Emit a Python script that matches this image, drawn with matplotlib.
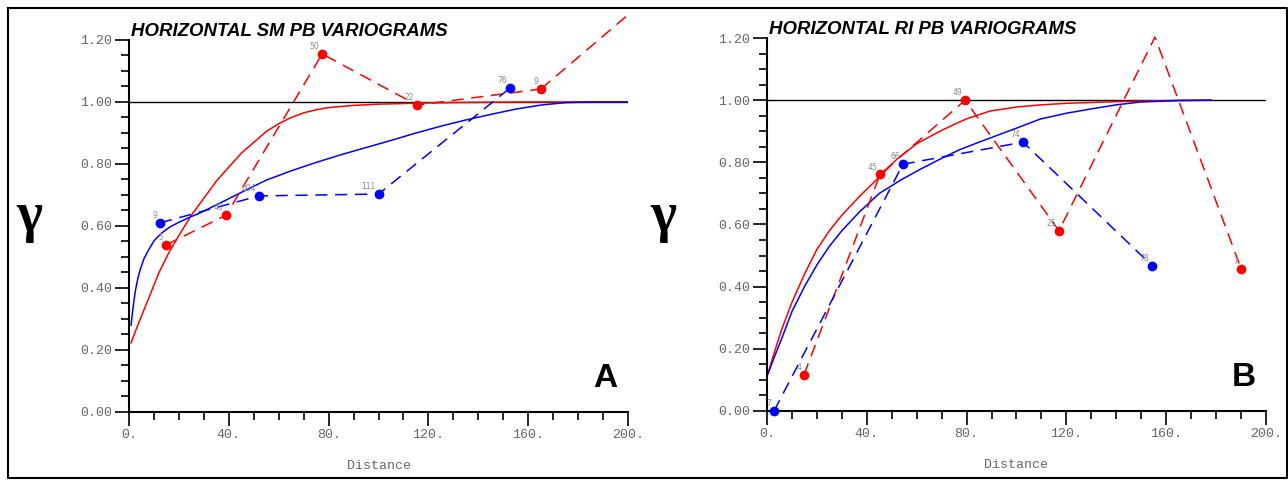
import matplotlib
matplotlib.use("Agg")
import matplotlib.pyplot as plt
from matplotlib.ticker import MultipleLocator, FuncFormatter
from matplotlib.lines import Line2D

# ---------------- data ----------------
# Panel A (SM)
sm_red_x = [14.8, 38.9, 77.4, 115.4, 165.1]
sm_red_y = [0.539, 0.635, 1.155, 0.99, 1.042]
sm_red_lbl = ["5", "40", "50", "22", "9"]
sm_red_tail_x = [165.1, 200.4]
sm_red_tail_y = [1.042, 1.284]

sm_blue_x = [12.4, 52.0, 100.0, 152.7]
sm_blue_y = [0.61, 0.697, 0.703, 1.045]
sm_blue_lbl = ["9", "204", "111", "76"]

sm_red_model_x = [0.8, 3, 6, 9, 12, 16, 20, 25, 30, 35, 40, 45, 50, 55, 60, 65, 70, 75,
                  80, 90, 100, 120, 140, 160, 200]
sm_red_model_y = [0.223, 0.27, 0.33, 0.39, 0.45, 0.515, 0.57, 0.635, 0.69, 0.745, 0.79,
                  0.835, 0.87, 0.905, 0.93, 0.95, 0.965, 0.975, 0.982, 0.989, 0.993,
                  0.997, 0.999, 1.0, 1.0]
sm_blue_model_x = [0.8, 1.5, 2.5, 3.5, 4.5, 6, 8, 10, 13, 16.4, 20, 24, 28.4, 35, 44.4,
                   55, 65, 75, 85, 95, 105, 115, 125, 135, 145, 155, 165, 175, 185, 200]
sm_blue_model_y = [0.28, 0.33, 0.39, 0.43, 0.46, 0.495, 0.525, 0.552, 0.577, 0.597,
                   0.612, 0.627, 0.642, 0.668, 0.706, 0.748, 0.778, 0.805, 0.83, 0.853,
                   0.876, 0.90, 0.922, 0.942, 0.96, 0.977, 0.99, 0.998, 1.0, 1.0]

# Panel B (RI)
ri_red_x = [14.8, 45.3, 79.4, 117.0, 155.5, 190.0]
ri_red_y = [0.116, 0.761, 1.0, 0.58, 1.203, 0.458]
ri_red_lbl = ["4", "45", "49", "25", "", "7"]
ri_red_mark = [True, True, True, True, False, True]

ri_blue_x = [2.8, 54.5, 102.6, 154.3]
ri_blue_y = [0.0, 0.794, 0.865, 0.468]
ri_blue_lbl = ["7", "66", "74", "78"]

ri_red_model_x = [0.4, 3, 6, 10, 15, 20, 25, 30, 37, 45.3, 52, 60, 69.3, 75, 80, 89.4,
                  100, 110, 120, 135, 149.5, 165, 178]
ri_red_model_y = [0.12, 0.19, 0.265, 0.35, 0.44, 0.52, 0.58, 0.63, 0.69, 0.755, 0.81,
                  0.86, 0.90, 0.922, 0.94, 0.965, 0.978, 0.985, 0.99, 0.994, 0.997,
                  0.999, 1.0]
ri_blue_model_x = [0.4, 3, 6, 10, 15, 20, 25, 30, 37, 45, 54, 62, 69.3, 77, 85, 100,
                   109.4, 120, 130, 140, 149.5, 165, 178]
ri_blue_model_y = [0.12, 0.175, 0.235, 0.32, 0.40, 0.47, 0.53, 0.58, 0.64, 0.70, 0.745,
                   0.78, 0.81, 0.84, 0.865, 0.91, 0.939, 0.958, 0.972, 0.985, 0.994,
                   0.999, 1.0]

titles = ["HORIZONTAL SM PB VARIOGRAMS", "HORIZONTAL RI PB VARIOGRAMS"]
panel_letters = ["A", "B"]
sill = 1.0

# ---------------- style ----------------
RED = "#ff0000"
BLUE = "#0000ff"
GRAY = "#666666"
MONO = "Liberation Mono"
DASH = (0, (8, 5))

fig = plt.figure(figsize=(12.88, 4.8), dpi=100)
fig.patch.set_facecolor("white")

# outer frame
fig.add_artist(Line2D([0.006, 0.999, 0.999, 0.006, 0.006],
                      [0.983, 0.983, 0.004, 0.004, 0.983],
                      transform=fig.transFigure, color="black", lw=1.5))

axA = fig.add_axes([0.1002, 0.1417, 0.3874, 0.775])
axB = fig.add_axes([0.5955, 0.1438, 0.3874, 0.777])


def style_axis(ax):
    ax.set_xlim(0, 200)
    ax.set_ylim(0, 1.2)
    for s in ["top", "right"]:
        ax.spines[s].set_visible(False)
    for s in ["left", "bottom"]:
        ax.spines[s].set_linewidth(1.5)
    ax.xaxis.set_major_locator(MultipleLocator(40))
    ax.xaxis.set_minor_locator(MultipleLocator(10))
    ax.yaxis.set_major_locator(MultipleLocator(0.2))
    ax.yaxis.set_minor_locator(MultipleLocator(0.05))
    ax.xaxis.set_major_formatter(FuncFormatter(lambda v, p: "%d." % round(v)))
    ax.yaxis.set_major_formatter(FuncFormatter(lambda v, p: "%.2f" % v))
    ax.tick_params(which="major", direction="out", length=10, width=1.2,
                   labelsize=9.5, labelcolor=GRAY, pad=2)
    ax.tick_params(which="minor", direction="out", length=6, width=1.2)
    for lab in ax.get_xticklabels() + ax.get_yticklabels():
        lab.set_fontfamily(MONO)
    ax.set_xlabel("Distance", fontfamily=MONO, fontsize=9.5, color=GRAY, labelpad=14)
    ax.axhline(sill, color="black", lw=1.0, zorder=1)


def label_points(ax, xs, ys, labels):
    for x, y, t in zip(xs, ys, labels):
        if t:
            ax.annotate(t, (x, y), xytext=(-2, 2), textcoords="offset points",
                        ha="right", va="bottom", fontsize=5.5, color="#888888")


# Panel A
style_axis(axA)
axA.plot(sm_red_model_x, sm_red_model_y, color=RED, lw=1.1, zorder=2)
axA.plot(sm_blue_model_x, sm_blue_model_y, color=BLUE, lw=1.1, zorder=2)
axA.plot(sm_red_x, sm_red_y, color=RED, lw=1.1, ls=DASH, zorder=3)
axA.plot(sm_red_tail_x, sm_red_tail_y, color=RED, lw=1.1, ls=DASH, zorder=3, clip_on=False)
axA.plot(sm_red_x, sm_red_y, "o", color=RED, ms=6, zorder=4)
axA.plot(sm_blue_x, sm_blue_y, color=BLUE, lw=1.1, ls=DASH, zorder=3)
axA.plot(sm_blue_x, sm_blue_y, "o", color=BLUE, ms=6, zorder=4)
label_points(axA, sm_red_x, sm_red_y, sm_red_lbl)
label_points(axA, sm_blue_x, sm_blue_y, sm_blue_lbl)

# Panel B
style_axis(axB)
axB.plot(ri_red_model_x, ri_red_model_y, color=RED, lw=1.1, zorder=2)
axB.plot(ri_blue_model_x, ri_blue_model_y, color=BLUE, lw=1.1, zorder=2)
axB.plot(ri_red_x, ri_red_y, color=RED, lw=1.1, ls=DASH, zorder=3, clip_on=False)
axB.plot([x for x, m in zip(ri_red_x, ri_red_mark) if m],
         [y for y, m in zip(ri_red_y, ri_red_mark) if m], "o", color=RED, ms=6, zorder=4,
         clip_on=False)
axB.plot(ri_blue_x, ri_blue_y, color=BLUE, lw=1.1, ls=DASH, zorder=3, clip_on=False)
axB.plot(ri_blue_x, ri_blue_y, "o", color=BLUE, ms=6, zorder=4, clip_on=False)
label_points(axB, ri_red_x, ri_red_y, ri_red_lbl)
label_points(axB, ri_blue_x, ri_blue_y, ri_blue_lbl)

# titles, gammas, panel letters
for ax, t, letter in zip([axA, axB], titles, panel_letters):
    ax.text(0.004, 1.0, t, transform=ax.transAxes, ha="left", va="bottom",
            fontfamily="Liberation Sans", fontweight="bold", fontstyle="italic",
            fontsize=13.4, color="black")
    ax.text(0.955, 0.09, letter, transform=ax.transAxes, ha="center", va="center",
            fontfamily="Liberation Sans", fontweight="bold", fontsize=24)

for gx in (0.023, 0.515):
    fig.text(gx, 0.548, "γ", ha="center", va="center", fontfamily="Liberation Serif",
             fontweight="bold", fontsize=40)

fig.savefig("out.png", dpi=100, facecolor="white")
